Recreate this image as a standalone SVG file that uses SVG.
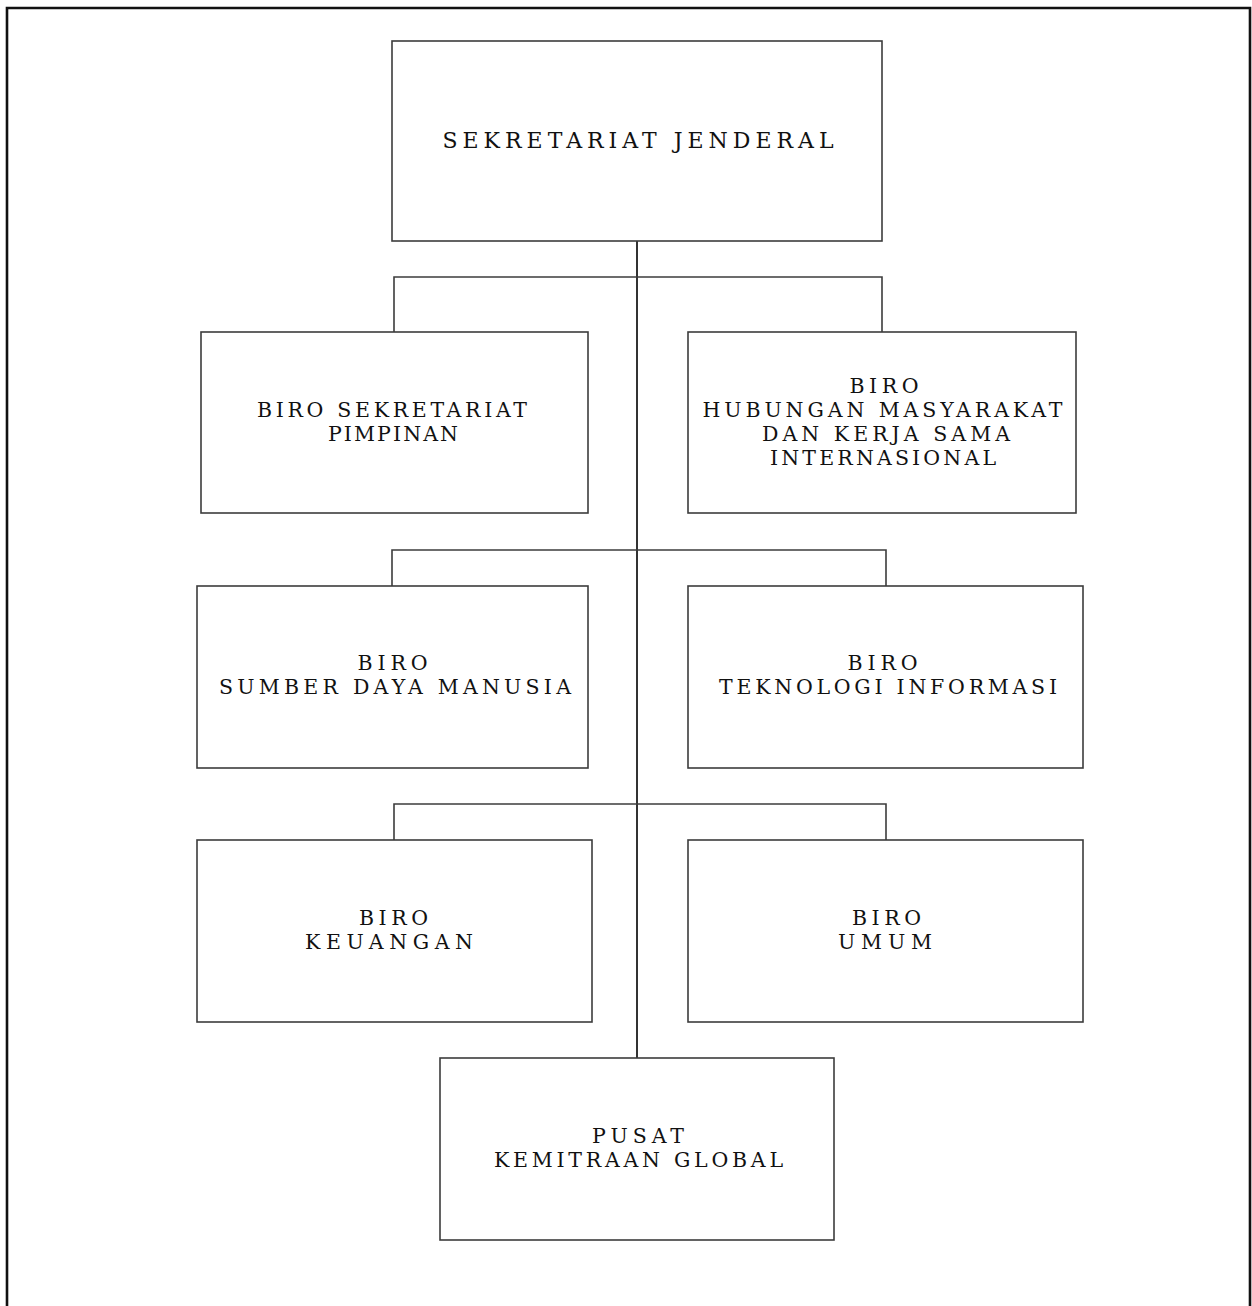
<svg xmlns="http://www.w3.org/2000/svg" width="1252" height="1306" viewBox="0 0 1252 1306">
<style>
.box{fill:#fff;stroke:#3c3c3c;stroke-width:1.6}
.lbl{font-family:"DejaVu Serif","Liberation Serif",serif;font-size:20.5px;fill:#111;text-anchor:middle}
.title{font-size:22px}
.conn{fill:none;stroke:#3c3c3c;stroke-width:1.6}
.trunk{fill:none;stroke:#333;stroke-width:2}
</style>
<rect x="0" y="0" width="1252" height="1306" fill="#fff"/>
<path d="M7,1306 V8 H1250 V1306" fill="none" stroke="#111" stroke-width="2.6"/>
<g id="connectors">
<path class="trunk" d="M637,241 V1058"/>
<path class="conn" d="M394,332 V277 H882 V332"/>
<path class="conn" d="M392,586 V550 H886 V586"/>
<path class="conn" d="M394,840 V804 H886 V840"/>
</g>
<g id="sekjen">
<rect class="box" x="392" y="41" width="490" height="200"/>
<text class="lbl title" x="638" y="148" textLength="391" lengthAdjust="spacing">SEKRETARIAT JENDERAL</text>
</g>
<g id="biro-sekretariat-pimpinan">
<rect class="box" x="201" y="332" width="387" height="181"/>
<text class="lbl" x="392" y="417" textLength="270" lengthAdjust="spacing">BIRO SEKRETARIAT</text>
<text class="lbl" x="393" y="441" textLength="130" lengthAdjust="spacing">PIMPINAN</text>
</g>
<g id="biro-humas-ksi">
<rect class="box" x="688" y="332" width="388" height="181"/>
<text class="lbl" x="884" y="393" textLength="69" lengthAdjust="spacing">BIRO</text>
<text class="lbl" x="882.5" y="417" textLength="360" lengthAdjust="spacing">HUBUNGAN MASYARAKAT</text>
<text class="lbl" x="886" y="441" textLength="248" lengthAdjust="spacing">DAN KERJA SAMA</text>
<text class="lbl" x="883" y="465" textLength="226" lengthAdjust="spacing">INTERNASIONAL</text>
</g>
<g id="biro-sdm">
<rect class="box" x="197" y="586" width="391" height="182"/>
<text class="lbl" x="392.5" y="670" textLength="70" lengthAdjust="spacing">BIRO</text>
<text class="lbl" x="395" y="694" textLength="352" lengthAdjust="spacing">SUMBER DAYA MANUSIA</text>
</g>
<g id="biro-ti">
<rect class="box" x="688" y="586" width="395" height="182"/>
<text class="lbl" x="882.5" y="670" textLength="70" lengthAdjust="spacing">BIRO</text>
<text class="lbl" x="888" y="694" textLength="338" lengthAdjust="spacing">TEKNOLOGI INFORMASI</text>
</g>
<g id="biro-keuangan">
<rect class="box" x="197" y="840" width="395" height="182"/>
<text class="lbl" x="393.5" y="925" textLength="69" lengthAdjust="spacing">BIRO</text>
<text class="lbl" x="389" y="949" textLength="168" lengthAdjust="spacing">KEUANGAN</text>
</g>
<g id="biro-umum">
<rect class="box" x="688" y="840" width="395" height="182"/>
<text class="lbl" x="886.5" y="925" textLength="69" lengthAdjust="spacing">BIRO</text>
<text class="lbl" x="885" y="949" textLength="94" lengthAdjust="spacing">UMUM</text>
</g>
<g id="pusat-kemitraan-global">
<rect class="box" x="440" y="1058" width="394" height="182"/>
<text class="lbl" x="638" y="1143" textLength="92" lengthAdjust="spacing">PUSAT</text>
<text class="lbl" x="638.5" y="1167" textLength="289" lengthAdjust="spacing">KEMITRAAN GLOBAL</text>
</g>
</svg>
